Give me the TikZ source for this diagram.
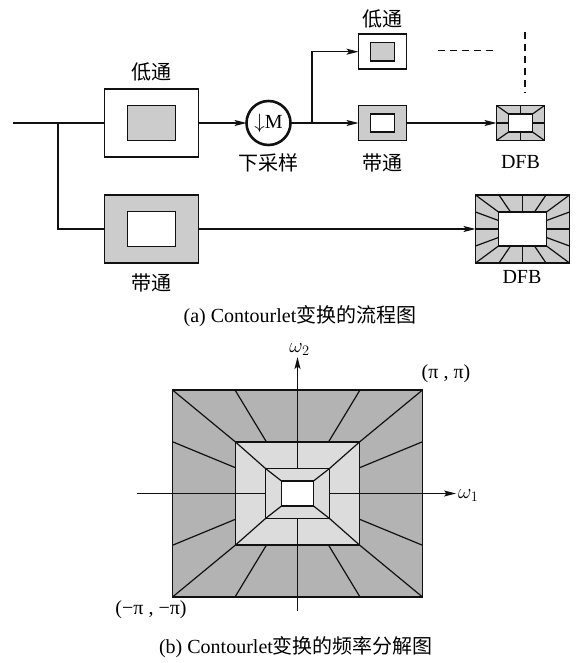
\documentclass[tikz,border=0pt]{standalone}
\usepackage{fontspec}
\setmainfont{Liberation Serif}
\newfontfamily\cjk{Noto Sans CJK SC}
\usetikzlibrary{arrows.meta,positioning,calc}
\definecolor{ink}{HTML}{111111}
\definecolor{boxgray}{HTML}{CCCCCC}
\definecolor{ringdark}{HTML}{B3B3B3}
\definecolor{ringlight}{HTML}{DCDCDC}

% corner lines and side lines of a directional fan between two rectangles
\newcommand{\fancorners}[2]{%
  \foreach \cn in {north west,north east,south west,south east}
    \draw[fan] (#1.\cn) -- (#2.\cn);}
\newcommand{\fansides}[3]{%
  \foreach \t in {#3}{
    \draw[fan] ($(#1.north west)!\t!(#1.north east)$) -- ($(#2.north west)!\t!(#2.north east)$);
    \draw[fan] ($(#1.south west)!\t!(#1.south east)$) -- ($(#2.south west)!\t!(#2.south east)$);
    \draw[fan] ($(#1.north west)!\t!(#1.south west)$) -- ($(#2.north west)!\t!(#2.south west)$);
    \draw[fan] ($(#1.north east)!\t!(#1.south east)$) -- ($(#2.north east)!\t!(#2.south east)$);
  }}

\begin{document}
\begin{tikzpicture}[x=1pt,y=-1pt,font=\fontsize{20}{24}\selectfont,
  box/.style={draw=ink,line width=1.6pt,rectangle,inner sep=0pt,outer sep=0pt},
  wbox/.style={box,fill=white},
  gbox/.style={box,fill=boxgray},
  conn/.style={draw=ink,line width=1.1pt},
  arr/.style={conn,-{Stealth[length=12pt,width=6pt,inset=2.5pt]}},
  fan/.style={draw=ink,line width=1.2pt},
  lab/.style={inner sep=0pt,font=\fontsize{20}{24}\selectfont\cjk},
  latlab/.style={inner sep=0pt},
  axis/.style={draw=ink,line width=1.2pt}]
  \path[use as bounding box] (0,0) rectangle (576,663);

  % (a) flow chart
  \coordinate (in) at (13,123);
  \coordinate (split) at (58,123);
  \node[wbox,minimum width=94,minimum height=68] (lp1) at (151.5,123) {};
  \node[gbox,minimum width=48,minimum height=35] (lp1c) at (lp1) {};
  \node[lab] (lp1lab) at (151,72) {低通};
  \node[circle,draw=ink,line width=2.6pt,minimum size=44pt,inner sep=0pt,outer sep=0pt] (ds) at (268.5,123) {$\downarrow$M};
  \node[lab] (dslab) at (268,163) {下采样};
  \coordinate (fork) at (312,123);

  \node[wbox,minimum width=48,minimum height=35] (lp2) at (382.5,51.7) {};
  \node[gbox,minimum width=24,minimum height=18.5] (lp2c) at (lp2) {};
  \node[lab] (lp2lab) at (382.5,19) {低通};
  \node[gbox,minimum width=48,minimum height=35] (bp2) at (382.5,123) {};
  \node[wbox,minimum width=24,minimum height=18] (bp2c) at (bp2) {};
  \node[lab] (bp2lab) at (382.5,163) {带通};

  \node[gbox,minimum width=48,minimum height=35] (dfb2) at (520.5,123) {};
  \node[wbox,minimum width=24,minimum height=18] (dfb2c) at (dfb2) {};
  \fancorners{dfb2}{dfb2c}
  \fansides{dfb2}{dfb2c}{0.5}
  \node[latlab] (dfb2lab) at (520.5,162) {DFB};

  \node[gbox,minimum width=94,minimum height=68] (bp1) at (151.5,229) {};
  \node[wbox,minimum width=48,minimum height=35] (bp1c) at (bp1) {};
  \node[lab] (bp1lab) at (151,283) {带通};

  \node[gbox,minimum width=94,minimum height=68] (dfb1) at (522.5,229) {};
  \node[wbox,minimum width=48,minimum height=34] (dfb1c) at (dfb1) {};
  \fancorners{dfb1}{dfb1c}
  \fansides{dfb1}{dfb1c}{0.25,0.5,0.75}
  \node[latlab] (dfb1lab) at (522,277) {DFB};

  \draw[conn] (in) -- (lp1.west);
  \draw[conn] (split) |- (bp1.west);
  \draw[arr] (lp1.east) -- (ds.west);
  \draw[conn] (ds.east) -- (fork);
  \draw[arr] (fork) |- (lp2.west);
  \draw[arr] (fork) -- (bp2.west);
  \draw[arr] (bp2.east) -- (dfb2.west);
  \draw[arr] (bp1.east) -- (dfb1.west);

  % dashes for the further levels
  \coordinate (dh1) at (437.5,50.7);
  \coordinate (dh2) at (496,50.7);
  \coordinate (dv1) at (525,32);
  \coordinate (dv2) at (525,93);
  \draw[conn,dash pattern=on 7pt off 5pt] (dh1) -- (dh2);
  \draw[conn,dash pattern=on 7pt off 5pt] (dv1) -- (dv2);

  \node[latlab] (capa) at (300,316) {(a) Contourlet{\cjk 变换的流程图}};

  % (b) frequency partition
  \node[box,fill=ringdark,line width=1.8pt,minimum width=250,minimum height=207] (fo) at (297.5,493.5) {};
  \node[box,fill=ringlight,minimum width=124,minimum height=103] (fm) at (297.5,493.5) {};
  \node[box,fill=ringlight,minimum width=64,minimum height=50] (fi) at (297.5,493.5) {};
  \node[wbox,minimum width=32,minimum height=25] (fw) at (297.5,493.5) {};
  \fancorners{fo}{fm}
  \fansides{fo}{fm}{0.25,0.75}
  \fancorners{fm}{fi}
  \fancorners{fi}{fw}

  \coordinate (w1s) at (137,493.5);
  \coordinate (w1) at (456,493.5);
  \coordinate (w2s) at (297.5,611);
  \coordinate (w2) at (297.5,357);
  \draw[axis] (w1s) -- (fi.west);
  \draw[axis,-{Stealth[length=12pt,width=6pt,inset=2.5pt]}] (fi.east) -- (w1);
  \draw[axis] (w2s) -- (fi.south);
  \draw[axis,-{Stealth[length=12pt,width=6pt,inset=2.5pt]}] (fi.north) -- (w2);
  \node[latlab,anchor=west] (w1lab) at ($(w1)+(2,2)$) {$\omega_1$};
  \node[latlab,anchor=south] (w2lab) at ($(w2)+(2,-1)$) {$\omega_2$};
  \node[latlab] (pp) at (446,374) {(π , π)};
  \node[latlab] (mm) at (151,610) {(−π , −π)};

  \node[latlab] (capb) at (296,647) {(b) Contourlet{\cjk 变换的频率分解图}};
\end{tikzpicture}
\end{document}
